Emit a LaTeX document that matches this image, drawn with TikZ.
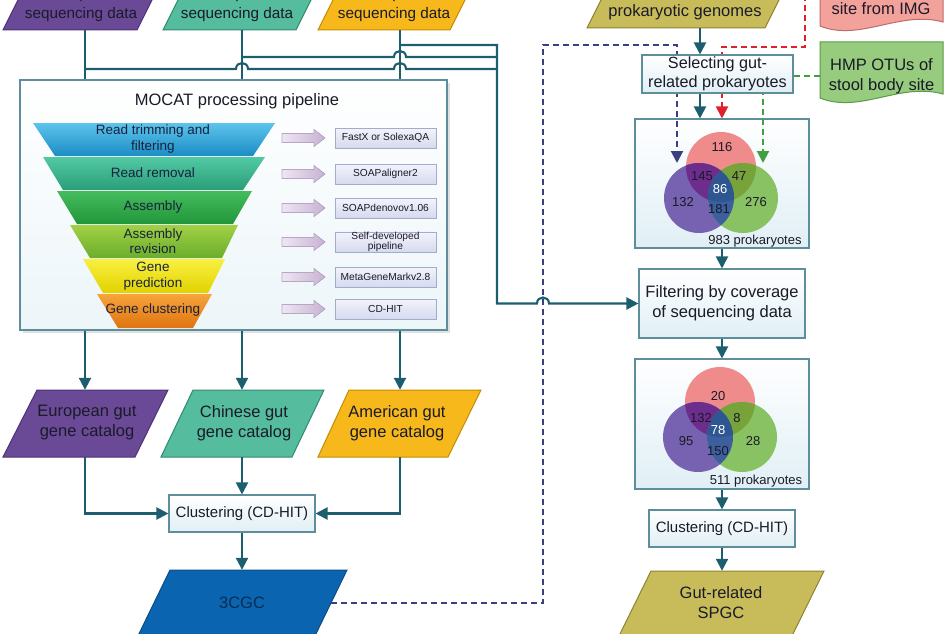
\documentclass[tikz,border=0pt]{standalone}
\usepackage{fontspec}
\setmainfont{Liberation Sans}
\usetikzlibrary{arrows.meta}
\definecolor{connc}{HTML}{1D5E6E}
\definecolor{boxline}{HTML}{5E8E9C}
\definecolor{boxbot}{HTML}{E0EFF5}
\definecolor{txtc}{HTML}{1A1A28}
\definecolor{purF}{HTML}{6A4A96}
\definecolor{purD}{HTML}{4C3276}
\definecolor{tealF}{HTML}{55BC9E}
\definecolor{tealD}{HTML}{2F8A70}
\definecolor{oraF}{HTML}{F6B81A}
\definecolor{oraD}{HTML}{C48C00}
\definecolor{blueF}{HTML}{0B64B0}
\definecolor{blueD}{HTML}{0A4C88}
\definecolor{oliF}{HTML}{C8BC5A}
\definecolor{oliD}{HTML}{8C8232}
\definecolor{pinkF}{HTML}{F3A19B}
\definecolor{pinkD}{HTML}{C06A6A}
\definecolor{grnF}{HTML}{97CB7D}
\definecolor{grnD}{HTML}{5C9A4A}
\definecolor{navyd}{HTML}{3A3F82}
\definecolor{redd}{HTML}{E0202A}
\definecolor{grnd}{HTML}{3FA040}
\definecolor{vP}{HTML}{EF8B8B}
\definecolor{vU}{HTML}{7662B0}
\definecolor{vG}{HTML}{88C262}
\definecolor{vPU}{HTML}{6C2D8C}
\definecolor{vPG}{HTML}{78A23A}
\definecolor{vUG}{HTML}{3D5F9E}
\definecolor{vPUG}{HTML}{2E5690}
\definecolor{f1t}{HTML}{5CC4EC}\definecolor{f1b}{HTML}{1C8CC4}
\definecolor{f2t}{HTML}{52C8A4}\definecolor{f2b}{HTML}{2A9E78}
\definecolor{f3t}{HTML}{44BC5E}\definecolor{f3b}{HTML}{22963A}
\definecolor{f4t}{HTML}{A2D044}\definecolor{f4b}{HTML}{6AAE2C}
\definecolor{f5t}{HTML}{F8F040}\definecolor{f5b}{HTML}{E2D200}
\definecolor{f6t}{HTML}{F7A43A}\definecolor{f6b}{HTML}{DF7410}
\definecolor{funtxt}{HTML}{18223E}
\definecolor{toolT}{HTML}{F2F3FB}\definecolor{toolB}{HTML}{D6DAEE}\definecolor{toolD}{HTML}{A2ACCC}
\definecolor{blkL}{HTML}{EEE6F2}\definecolor{blkR}{HTML}{C8B2D2}\definecolor{blkD}{HTML}{B8A6C8}
\begin{document}
\begin{tikzpicture}[x=1pt,y=-1pt,
  conn/.style={draw=connc,line width=2.1pt},
  tip/.style={-{Triangle[length=12pt,width=12pt]}},
  arr/.style={conn,tip},
  dsh/.style={line width=2.1pt,dash pattern=on 6pt off 4pt},
  box/.style={draw=boxline,line width=1.1pt,top color=white,bottom color=boxbot,inner sep=0pt,align=center,text=txtc},
  big/.style={font=\fontsize{16.5}{20}\selectfont},
  mid/.style={font=\fontsize{15}{18}\selectfont},
  ptxt/.style={inner sep=0pt,align=center,text=txtc,big},
  funt/.style={inner sep=0pt,align=center,text=funtxt,font=\fontsize{13.5}{15.5}\selectfont},
  toolbox/.style={draw=toolD,line width=0.8pt,top color=toolT,bottom color=toolB,minimum width=101pt,minimum height=20pt,inner sep=0pt,align=center,text=txtc,font=\fontsize{10.2}{9.5}\selectfont},
  vnum/.style={inner sep=0pt,text=txtc,font=\fontsize{13}{15}\selectfont},
  blk/.style={draw=blkD,line width=0.6pt,left color=blkL,right color=blkR}
]
\useasboundingbox (0,0) rectangle (946,634);
\clip (0,0) rectangle (946,634);

% ---------- top input parallelograms ----------
\filldraw[fill=purF,draw=purD,line width=1pt] (3,30) -- (137,30) -- (171,-38) -- (37,-38) -- cycle;
\filldraw[fill=tealF,draw=tealD,line width=1pt] (163,30) -- (296,30) -- (330,-38) -- (197,-38) -- cycle;
\filldraw[fill=oraF,draw=oraD,line width=1pt] (318,30) -- (450,30) -- (484,-38) -- (352,-38) -- cycle;
\node[ptxt,font=\fontsize{15.3}{20}\selectfont] (eusT) at (81,5) {samples,\\sequencing data};
\node[ptxt,font=\fontsize{15.3}{20}\selectfont] (cnsT) at (237,5) {samples,\\sequencing data};
\node[ptxt,font=\fontsize{15.3}{20}\selectfont] (amsT) at (394,5) {samples,\\sequencing data};
\node[inner sep=0pt,minimum height=50pt,minimum width=2pt] (eus) at (85,5) {};
\node[inner sep=0pt,minimum height=50pt,minimum width=2pt] (cns) at (242,5) {};
\node[inner sep=0pt,minimum height=50pt,minimum width=2pt] (ams) at (400,5) {};

% ---------- MOCAT box ----------
\fill[black!12] (23,83) rectangle (450,333);
\node[box,minimum width=427pt,minimum height=250pt,top color=white,bottom color=boxbot!60] (mocat) at (233.5,205) {};
\node[ptxt] (moctitle) at (237,101) {MOCAT processing pipeline};

% funnel
\shade[top color=f1t,bottom color=f1b] (33,123) -- (275,123) -- (253,156) -- (55,156) -- cycle;
\shade[top color=f2t,bottom color=f2b] (43,157) -- (265,157) -- (243,190) -- (63,190) -- cycle;
\shade[top color=f3t,bottom color=f3b] (57,191) -- (252,191) -- (233,224) -- (77,224) -- cycle;
\shade[top color=f4t,bottom color=f4b] (70,225) -- (238,225) -- (222,258) -- (90,258) -- cycle;
\shade[top color=f5t,bottom color=f5b] (83,259) -- (225,259) -- (208,293) -- (103,293) -- cycle;
\shade[top color=f6t,bottom color=f6b] (97,294) -- (212,294) -- (193,328) -- (118,328) -- cycle;
\node[funt] (fa) at (153,139) {Read trimming and\\filtering};
\node[funt] (fb) at (153,173) {Read removal};
\node[funt] (fc) at (153,207) {Assembly};
\node[funt] (fd) at (153,241) {Assembly\\revision};
\node[funt] (fe) at (153,276) {Gene\\prediction};
\node[funt] (ff) at (153,310) {Gene clustering};

% block arrows
\foreach \c in {138,174,208,242,277,309}{
  \filldraw[blk] (282,\c-4.5) -- (314,\c-4.5) -- (314,\c-8.5) -- (325,\c) -- (314,\c+8.5) -- (314,\c+4.5) -- (282,\c+4.5) -- cycle;
}
% tool boxes
\node[toolbox] (ta) at (385.5,138) {FastX or SolexaQA};
\node[toolbox] (tb) at (385.5,174) {SOAPaligner2};
\node[toolbox] (tc) at (385.5,208) {SOAPdenovov1.06};
\node[toolbox] (td) at (385.5,242) {Self-developed\\pipeline};
\node[toolbox] (te) at (385.5,277) {MetaGeneMarkv2.8};
\node[toolbox] (tf) at (385.5,309) {CD-HIT};

% ---------- catalog parallelograms ----------
\filldraw[fill=purF,draw=purD,line width=1pt] (3,457) -- (135,457) -- (168,390) -- (37,390) -- cycle;
\filldraw[fill=tealF,draw=tealD,line width=1pt] (161,457) -- (292,457) -- (324,390) -- (193,390) -- cycle;
\filldraw[fill=oraF,draw=oraD,line width=1pt] (318,457) -- (448,457) -- (481,390) -- (349,390) -- cycle;
\node[ptxt] (euT) at (87,423) {European gut\\gene catalog};
\node[ptxt] (cnT) at (244,423) {Chinese gut\\gene catalog};
\node[ptxt] (amT) at (397,423) {American gut\\gene catalog};
\node[inner sep=0pt,minimum height=67pt,minimum width=2pt] (eu) at (85,423.5) {};
\node[inner sep=0pt,minimum height=67pt,minimum width=2pt] (cn) at (242,423.5) {};
\node[inner sep=0pt,minimum height=67pt,minimum width=2pt] (am) at (400,423.5) {};

% clustering left
\node[box,mid,minimum width=146pt,minimum height=37pt] (clL) at (242,513.5) {Clustering (CD-HIT)};

% 3CGC
\filldraw[fill=blueF,draw=blueD,line width=1pt] (170,570) -- (347,570) -- (312,642) -- (135,642) -- cycle;
\node[ptxt,text=blueD!60!black] (cgc) at (242,603) {3CGC};
\node[inner sep=0pt,minimum height=66pt,minimum width=2pt] (cgcA) at (242,603) {};
\coordinate (cgcR) at (331,603);

% ---------- right side ----------
\filldraw[fill=oliF,draw=oliD,line width=1pt] (587,28) -- (765,28) -- (799,-40) -- (621,-40) -- cycle;
\node[ptxt] (prok) at (685,12) {prokaryotic genomes};
\coordinate (prokB) at (700,28);

\filldraw[fill=pinkF,draw=pinkD,line width=1pt] (820,-20) -- (943,-20) -- (943,22) .. controls (900,10) and (860,42) .. (820,26) -- cycle;
\node[ptxt] (img) at (881,9) {site from IMG};
\coordinate (redS) at (805,-5);

\filldraw[fill=grnF,draw=grnD,line width=1pt] (820,42) -- (943,42) -- (943,94) .. controls (900,82) and (860,114) .. (820,98) -- cycle;
\node[ptxt,minimum width=123pt] (hmp) at (881.5,76) {HMP OTUs of\\stool body site};

% venn boxes
\node[box,minimum width=174pt,minimum height=129pt] (v1) at (722,183.5) {};
\node[box,minimum width=174pt,minimum height=130pt] (v2) at (722,424) {};

% venn 1
\begin{scope}
\coordinate (P1) at (721,167); \coordinate (U1) at (699,198); \coordinate (G1) at (743,198);
\fill[vP] (P1) circle[radius=35pt];
\fill[vU] (U1) circle[radius=35pt];
\fill[vG] (G1) circle[radius=35pt];
\begin{scope}\clip (P1) circle[radius=35pt]; \fill[vPU] (U1) circle[radius=35pt];\end{scope}
\begin{scope}\clip (P1) circle[radius=35pt]; \fill[vPG] (G1) circle[radius=35pt];\end{scope}
\begin{scope}\clip (U1) circle[radius=35pt]; \fill[vUG] (G1) circle[radius=35pt];\end{scope}
\begin{scope}\clip (P1) circle[radius=35pt]; \clip (U1) circle[radius=35pt]; \fill[vPUG] (G1) circle[radius=35pt];\end{scope}
\node[vnum] (n116) at (722,147) {116};
\node[vnum] (n145) at (702,176) {145};
\node[vnum] (n47) at (739,176) {47};
\node[vnum,text=white] (n86) at (720,189) {86};
\node[vnum] (n132) at (683,202) {132};
\node[vnum] (n181) at (719,209) {181};
\node[vnum] (n276) at (756,202) {276};
\node[vnum] (c983) at (755,241) {983 prokaryotes};
\end{scope}

% venn 2
\begin{scope}
\coordinate (P2) at (720,402); \coordinate (U2) at (698,437); \coordinate (G2) at (742,437);
\fill[vP] (P2) circle[radius=35pt];
\fill[vU] (U2) circle[radius=35pt];
\fill[vG] (G2) circle[radius=35pt];
\begin{scope}\clip (P2) circle[radius=35pt]; \fill[vPU] (U2) circle[radius=35pt];\end{scope}
\begin{scope}\clip (P2) circle[radius=35pt]; \fill[vPG] (G2) circle[radius=35pt];\end{scope}
\begin{scope}\clip (U2) circle[radius=35pt]; \fill[vUG] (G2) circle[radius=35pt];\end{scope}
\begin{scope}\clip (P2) circle[radius=35pt]; \clip (U2) circle[radius=35pt]; \fill[vPUG] (G2) circle[radius=35pt];\end{scope}
\node[vnum] (n20) at (718,396) {20};
\node[vnum] (n132b) at (701,418) {132};
\node[vnum] (n8) at (737,418) {8};
\node[vnum,text=white] (n78) at (718,430) {78};
\node[vnum] (n95) at (686,441) {95};
\node[vnum] (n150) at (718,451) {150};
\node[vnum] (n28) at (753,441) {28};
\node[vnum] (c511) at (756,481) {511 prokaryotes};
\end{scope}

% dashed connectors
\coordinate (navyTop) at (543,45);
\coordinate (navyEnd) at (677,163);
\coordinate (redCorner) at (722,47);
\coordinate (grnEnd) at (763,163);
\draw[dsh,draw=navyd,tip] (cgcR) -| (navyTop) -| (navyEnd);
\draw[dsh,draw=redd,tip] (redS) |- (redCorner) -- (redCorner |- v1.north);
\draw[dsh,draw=grnd,tip] (hmp.west) -| (grnEnd);

% boxes covering dashed lines
\node[box,font=\fontsize{16.2}{18.5}\selectfont,minimum width=151pt,minimum height=38pt] (sel) at (717.5,74) {Selecting gut-\\related prokaryotes};
\node[box,big,minimum width=166pt,minimum height=69pt] (filt) at (722,303.5) {Filtering by coverage\\of sequencing data};
\node[box,mid,minimum width=146pt,minimum height=37pt] (clR) at (722,528.5) {Clustering (CD-HIT)};

% SPGC
\filldraw[fill=oliF,draw=oliD,line width=1pt] (651,571) -- (824,571) -- (789,642) -- (616,642) -- cycle;
\node[ptxt] (spgcT) at (721,603) {Gut-related\\SPGC};
\node[inner sep=0pt,minimum height=64pt,minimum width=2pt] (spgc) at (722,603) {};

% ---------- solid connectors ----------
\draw[conn] (eus.south) -- (eus.south |- mocat.north);
\draw[conn] (cns.south) -- (cns.south |- mocat.north);
\draw[conn] (ams.south) -- (ams.south |- mocat.north);
\coordinate (jP) at (85,69);
\coordinate (jT) at (242,57);
\coordinate (jO) at (400,45);
\coordinate (rTop) at (497,45);
\coordinate (rMid) at (497,57);
\coordinate (rLow) at (497,69);
\coordinate (rBot) at (497,303.5);
\draw[conn] (jP) -- (236,69) .. controls (236,61) and (248,61) .. (248,69) -- (394,69) .. controls (394,61) and (406,61) .. (406,69) -- (rLow);
\draw[conn] (jT) -- (394,57) .. controls (394,49) and (406,49) .. (406,57) -- (rMid);
\draw[conn,tip] (jO) -- (rTop) -- (rBot) -- (537,303.5) .. controls (537,295.5) and (549,295.5) .. (549,303.5) -- (filt.west);

\draw[arr] (eu.north |- mocat.south) -- (eu.north);
\draw[arr] (cn.north |- mocat.south) -- (cn.north);
\draw[arr] (am.north |- mocat.south) -- (am.north);
\draw[arr] (eu.south) |- (clL.west);
\draw[arr] (cn.south) -- (clL.north);
\draw[arr] (am.south) |- (clL.east);
\draw[arr] (clL.south) -- (cgcA.north);

\draw[arr] (prokB) -- (prokB |- sel.north);
\draw[arr] (sel.south -| prokB) -- (v1.north -| prokB);
\draw[arr] (v1.south) -- (filt.north);
\draw[arr] (filt.south) -- (v2.north);
\draw[arr] (v2.south) -- (clR.north);
\draw[arr] (clR.south) -- (spgc.north);
\end{tikzpicture}
\end{document}
